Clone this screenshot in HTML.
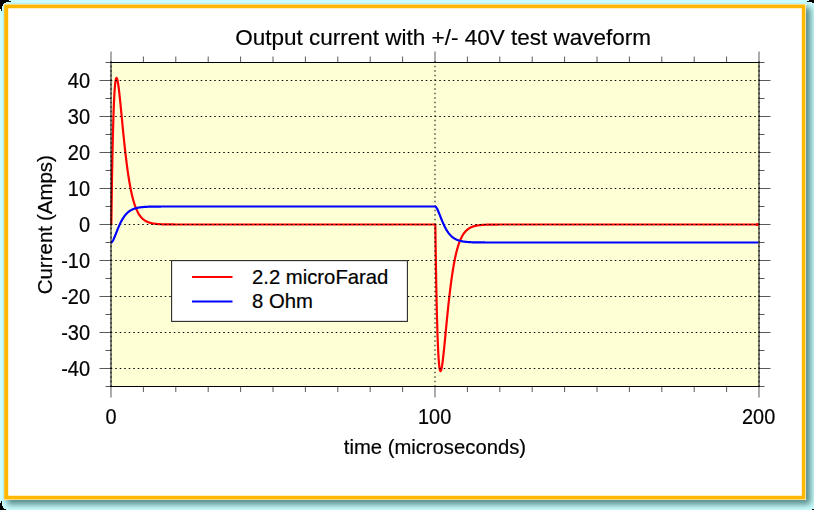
<!DOCTYPE html>
<html><head><meta charset="utf-8"><title>Output current</title>
<style>
html,body{margin:0;padding:0;background:#ccffff;}
body{width:814px;height:510px;overflow:hidden;}
svg{display:block;}
text{font-family:"Liberation Sans",sans-serif;fill:#000;stroke:#000;stroke-width:0.2px;}
</style></head><body>
<svg width="814" height="510" viewBox="0 0 814 510">
<defs>
<filter id="sh" x="-5%" y="-5%" width="110%" height="110%"><feGaussianBlur stdDeviation="3.2"/></filter>
<clipPath id="sc"><rect x="2.5" y="2.5" width="812" height="508"/></clipPath>
<clipPath id="pc"><rect x="109.5" y="62" width="650" height="325"/></clipPath>
</defs>
<rect x="0" y="0" width="814" height="510" fill="#ccffff"/>
<rect x="6.8" y="7.2" width="803.9" height="497.5" fill="#5a8b8b" filter="url(#sh)" clip-path="url(#sc)"/>
<rect x="4" y="4" width="802" height="496" fill="#ffffff"/>
<path d="M4.2,4.4H805.4V499.4H4.2Z M8.2,8.2V495.7H801.8V8.2Z" fill="#ffb800" fill-rule="evenodd"/>
<rect x="0" y="0" width="9" height="1" fill="#000"/><rect x="0" y="1" width="11" height="1" fill="#000"/><rect x="0" y="2" width="6" height="1" fill="#000"/><rect x="0" y="3" width="4" height="1" fill="#000"/><rect x="0" y="4" width="3" height="2" fill="#000"/><rect x="0" y="6" width="2" height="3" fill="#000"/><rect x="1" y="9" width="1" height="2" fill="#000"/>
<rect x="809" y="0" width="5" height="1" fill="#000"/><rect x="807" y="1" width="7" height="1" fill="#000"/><rect x="812" y="2" width="2" height="1" fill="#000"/>
<rect x="1" y="501" width="1" height="2" fill="#000"/><rect x="0" y="503" width="2" height="3" fill="#000"/><rect x="0" y="506" width="3" height="2" fill="#000"/><rect x="0" y="508" width="4" height="1" fill="#000"/><rect x="0" y="509" width="6" height="1" fill="#000"/>
<rect x="812" y="509" width="2" height="1" fill="#000"/>
<rect x="111" y="62.5" width="648" height="324" fill="#ffffd5"/>
<g clip-path="url(#pc)"><path d="M111.00,224.50 L111.32,224.50 L111.65,201.11 L111.97,180.55 L112.30,162.58 L112.62,146.94 L112.94,133.42 L113.27,121.83 L113.59,111.97 L113.92,103.69 L114.24,96.82 L114.56,91.23 L114.89,86.78 L115.21,83.37 L115.54,80.87 L115.86,79.19 L116.18,78.24 L116.51,77.95 L116.83,78.22 L117.16,79.00 L117.48,80.22 L117.80,81.83 L118.13,83.77 L118.45,86.00 L118.78,88.48 L119.10,91.17 L119.42,94.02 L119.75,97.03 L120.07,100.14 L120.40,103.35 L120.72,106.63 L121.04,109.95 L121.37,113.30 L121.69,116.67 L122.02,120.04 L122.34,123.39 L122.66,126.73 L122.99,130.03 L123.31,133.28 L123.64,136.49 L123.96,139.65 L124.28,142.75 L124.61,145.78 L124.93,148.75 L125.26,151.64 L125.58,154.46 L125.90,157.21 L126.23,159.88 L126.55,162.48 L126.88,165.00 L127.20,167.44 L127.52,169.80 L127.85,172.09 L128.17,174.30 L128.50,176.43 L128.82,178.49 L129.14,180.48 L129.47,182.40 L129.79,184.24 L130.12,186.02 L130.44,187.72 L130.76,189.37 L131.09,190.95 L131.41,192.46 L131.74,193.92 L132.06,195.31 L132.38,196.65 L132.71,197.94 L133.03,199.17 L133.36,200.35 L133.68,201.48 L134.00,202.56 L134.33,203.60 L134.65,204.58 L134.98,205.53 L135.30,206.44 L135.62,207.30 L135.95,208.13 L136.27,208.92 L136.60,209.67 L136.92,210.39 L137.24,211.08 L137.57,211.73 L137.89,212.36 L138.22,212.96 L138.54,213.52 L138.86,214.07 L139.19,214.58 L139.51,215.08 L139.84,215.55 L140.16,215.99 L140.48,216.42 L140.81,216.82 L141.13,217.21 L141.46,217.58 L141.78,217.93 L142.10,218.26 L142.43,218.58 L142.75,218.88 L143.08,219.16 L143.40,219.43 L143.72,219.69 L144.05,219.94 L144.37,220.17 L144.70,220.40 L145.02,220.61 L145.34,220.81 L145.67,221.00 L145.99,221.18 L146.32,221.35 L146.64,221.51 L146.96,221.67 L147.29,221.82 L147.61,221.96 L147.94,222.09 L148.26,222.22 L148.58,222.34 L148.91,222.45 L149.23,222.56 L149.56,222.66 L149.88,222.76 L150.20,222.85 L150.53,222.93 L150.85,223.02 L151.18,223.10 L151.50,223.17 L151.82,223.24 L152.15,223.31 L152.47,223.37 L152.80,223.43 L153.12,223.49 L153.44,223.54 L153.77,223.59 L154.09,223.64 L154.42,223.69 L154.74,223.73 L155.06,223.77 L155.39,223.81 L155.71,223.85 L156.04,223.88 L156.36,223.92 L156.68,223.95 L157.01,223.98 L157.33,224.01 L157.66,224.03 L157.98,224.06 L158.30,224.08 L158.63,224.10 L158.95,224.13 L159.28,224.15 L159.60,224.17 L159.92,224.18 L160.25,224.20 L160.57,224.22 L160.90,224.23 L161.22,224.25 L161.54,224.26 L161.87,224.27 L162.19,224.29 L162.52,224.30 L162.84,224.31 L163.16,224.32 L163.49,224.33 L163.81,224.34 L164.14,224.35 L164.46,224.36 L164.78,224.36 L165.11,224.37 L165.43,224.38 L165.76,224.38 L166.08,224.39 L166.40,224.40 L166.73,224.40 L167.05,224.41 L167.38,224.41 L167.70,224.42 L168.02,224.42 L168.35,224.43 L168.67,224.43 L169.00,224.43 L169.32,224.44 L169.64,224.44 L169.97,224.44 L170.29,224.45 L170.62,224.45 L170.94,224.45 L171.26,224.46 L171.59,224.46 L171.91,224.46 L172.24,224.46 L172.56,224.47 L172.88,224.47 L173.21,224.47 L173.53,224.47 L173.86,224.47 L174.18,224.47 L174.50,224.48 L174.83,224.48 L175.15,224.48 L175.48,224.48 L175.80,224.48 L177.42,224.49 L179.04,224.49 L180.66,224.49 L182.28,224.49 L183.90,224.50 L185.52,224.50 L187.14,224.50 L188.76,224.50 L190.38,224.50 L192.00,224.50 L193.62,224.50 L195.24,224.50 L196.86,224.50 L198.48,224.50 L200.10,224.50 L201.72,224.50 L203.34,224.50 L204.96,224.50 L206.58,224.50 L208.20,224.50 L209.82,224.50 L211.44,224.50 L213.06,224.50 L214.68,224.50 L216.30,224.50 L217.92,224.50 L219.54,224.50 L221.16,224.50 L222.78,224.50 L224.40,224.50 L226.02,224.50 L227.64,224.50 L229.26,224.50 L230.88,224.50 L232.50,224.50 L234.12,224.50 L235.74,224.50 L237.36,224.50 L238.98,224.50 L240.60,224.50 L242.22,224.50 L243.84,224.50 L245.46,224.50 L247.08,224.50 L248.70,224.50 L250.32,224.50 L251.94,224.50 L253.56,224.50 L255.18,224.50 L256.80,224.50 L258.42,224.50 L260.04,224.50 L261.66,224.50 L263.28,224.50 L264.90,224.50 L266.52,224.50 L268.14,224.50 L269.76,224.50 L271.38,224.50 L273.00,224.50 L274.62,224.50 L276.24,224.50 L277.86,224.50 L279.48,224.50 L281.10,224.50 L282.72,224.50 L284.34,224.50 L285.96,224.50 L287.58,224.50 L289.20,224.50 L290.82,224.50 L292.44,224.50 L294.06,224.50 L295.68,224.50 L297.30,224.50 L298.92,224.50 L300.54,224.50 L302.16,224.50 L303.78,224.50 L305.40,224.50 L307.02,224.50 L308.64,224.50 L310.26,224.50 L311.88,224.50 L313.50,224.50 L315.12,224.50 L316.74,224.50 L318.36,224.50 L319.98,224.50 L321.60,224.50 L323.22,224.50 L324.84,224.50 L326.46,224.50 L328.08,224.50 L329.70,224.50 L331.32,224.50 L332.94,224.50 L334.56,224.50 L336.18,224.50 L337.80,224.50 L339.42,224.50 L341.04,224.50 L342.66,224.50 L344.28,224.50 L345.90,224.50 L347.52,224.50 L349.14,224.50 L350.76,224.50 L352.38,224.50 L354.00,224.50 L355.62,224.50 L357.24,224.50 L358.86,224.50 L360.48,224.50 L362.10,224.50 L363.72,224.50 L365.34,224.50 L366.96,224.50 L368.58,224.50 L370.20,224.50 L371.82,224.50 L373.44,224.50 L375.06,224.50 L376.68,224.50 L378.30,224.50 L379.92,224.50 L381.54,224.50 L383.16,224.50 L384.78,224.50 L386.40,224.50 L388.02,224.50 L389.64,224.50 L391.26,224.50 L392.88,224.50 L394.50,224.50 L396.12,224.50 L397.74,224.50 L399.36,224.50 L400.98,224.50 L402.60,224.50 L404.22,224.50 L405.84,224.50 L407.46,224.50 L409.08,224.50 L410.70,224.50 L412.32,224.50 L413.94,224.50 L415.56,224.50 L417.18,224.50 L418.80,224.50 L420.42,224.50 L422.04,224.50 L423.66,224.50 L425.28,224.50 L426.90,224.50 L428.52,224.50 L430.14,224.50 L431.76,224.50 L433.38,224.50 L435.00,224.50 L435.32,224.50 L435.65,247.89 L435.97,268.45 L436.30,286.42 L436.62,302.06 L436.94,315.58 L437.27,327.17 L437.59,337.03 L437.92,345.31 L438.24,352.18 L438.56,357.77 L438.89,362.22 L439.21,365.63 L439.54,368.13 L439.86,369.81 L440.18,370.76 L440.51,371.05 L440.83,370.78 L441.16,370.00 L441.48,368.78 L441.80,367.17 L442.13,365.23 L442.45,363.00 L442.78,360.52 L443.10,357.83 L443.42,354.98 L443.75,351.97 L444.07,348.86 L444.40,345.65 L444.72,342.37 L445.04,339.05 L445.37,335.70 L445.69,332.33 L446.02,328.96 L446.34,325.61 L446.66,322.27 L446.99,318.97 L447.31,315.72 L447.64,312.51 L447.96,309.35 L448.28,306.25 L448.61,303.22 L448.93,300.25 L449.26,297.36 L449.58,294.54 L449.90,291.79 L450.23,289.12 L450.55,286.52 L450.88,284.00 L451.20,281.56 L451.52,279.20 L451.85,276.91 L452.17,274.70 L452.50,272.57 L452.82,270.51 L453.14,268.52 L453.47,266.60 L453.79,264.76 L454.12,262.98 L454.44,261.28 L454.76,259.63 L455.09,258.05 L455.41,256.54 L455.74,255.08 L456.06,253.69 L456.38,252.35 L456.71,251.06 L457.03,249.83 L457.36,248.65 L457.68,247.52 L458.00,246.44 L458.33,245.40 L458.65,244.42 L458.98,243.47 L459.30,242.56 L459.62,241.70 L459.95,240.87 L460.27,240.08 L460.60,239.33 L460.92,238.61 L461.24,237.92 L461.57,237.27 L461.89,236.64 L462.22,236.04 L462.54,235.48 L462.86,234.93 L463.19,234.42 L463.51,233.92 L463.84,233.45 L464.16,233.01 L464.48,232.58 L464.81,232.18 L465.13,231.79 L465.46,231.42 L465.78,231.07 L466.10,230.74 L466.43,230.42 L466.75,230.12 L467.08,229.84 L467.40,229.57 L467.72,229.31 L468.05,229.06 L468.37,228.83 L468.70,228.60 L469.02,228.39 L469.34,228.19 L469.67,228.00 L469.99,227.82 L470.32,227.65 L470.64,227.49 L470.96,227.33 L471.29,227.18 L471.61,227.04 L471.94,226.91 L472.26,226.78 L472.58,226.66 L472.91,226.55 L473.23,226.44 L473.56,226.34 L473.88,226.24 L474.20,226.15 L474.53,226.07 L474.85,225.98 L475.18,225.90 L475.50,225.83 L475.82,225.76 L476.15,225.69 L476.47,225.63 L476.80,225.57 L477.12,225.51 L477.44,225.46 L477.77,225.41 L478.09,225.36 L478.42,225.31 L478.74,225.27 L479.06,225.23 L479.39,225.19 L479.71,225.15 L480.04,225.12 L480.36,225.08 L480.68,225.05 L481.01,225.02 L481.33,224.99 L481.66,224.97 L481.98,224.94 L482.30,224.92 L482.63,224.90 L482.95,224.87 L483.28,224.85 L483.60,224.83 L483.92,224.82 L484.25,224.80 L484.57,224.78 L484.90,224.77 L485.22,224.75 L485.54,224.74 L485.87,224.73 L486.19,224.71 L486.52,224.70 L486.84,224.69 L487.16,224.68 L487.49,224.67 L487.81,224.66 L488.14,224.65 L488.46,224.64 L488.78,224.64 L489.11,224.63 L489.43,224.62 L489.76,224.62 L490.08,224.61 L490.40,224.60 L490.73,224.60 L491.05,224.59 L491.38,224.59 L491.70,224.58 L492.02,224.58 L492.35,224.57 L492.67,224.57 L493.00,224.57 L493.32,224.56 L493.64,224.56 L493.97,224.56 L494.29,224.55 L494.62,224.55 L494.94,224.55 L495.26,224.54 L495.59,224.54 L495.91,224.54 L496.24,224.54 L496.56,224.53 L496.88,224.53 L497.21,224.53 L497.53,224.53 L497.86,224.53 L498.18,224.53 L498.50,224.52 L498.83,224.52 L499.15,224.52 L499.48,224.52 L499.80,224.52 L501.42,224.51 L503.04,224.51 L504.66,224.51 L506.28,224.51 L507.90,224.50 L509.52,224.50 L511.14,224.50 L512.76,224.50 L514.38,224.50 L516.00,224.50 L517.62,224.50 L519.24,224.50 L520.86,224.50 L522.48,224.50 L524.10,224.50 L525.72,224.50 L527.34,224.50 L528.96,224.50 L530.58,224.50 L532.20,224.50 L533.82,224.50 L535.44,224.50 L537.06,224.50 L538.68,224.50 L540.30,224.50 L541.92,224.50 L543.54,224.50 L545.16,224.50 L546.78,224.50 L548.40,224.50 L550.02,224.50 L551.64,224.50 L553.26,224.50 L554.88,224.50 L556.50,224.50 L558.12,224.50 L559.74,224.50 L561.36,224.50 L562.98,224.50 L564.60,224.50 L566.22,224.50 L567.84,224.50 L569.46,224.50 L571.08,224.50 L572.70,224.50 L574.32,224.50 L575.94,224.50 L577.56,224.50 L579.18,224.50 L580.80,224.50 L582.42,224.50 L584.04,224.50 L585.66,224.50 L587.28,224.50 L588.90,224.50 L590.52,224.50 L592.14,224.50 L593.76,224.50 L595.38,224.50 L597.00,224.50 L598.62,224.50 L600.24,224.50 L601.86,224.50 L603.48,224.50 L605.10,224.50 L606.72,224.50 L608.34,224.50 L609.96,224.50 L611.58,224.50 L613.20,224.50 L614.82,224.50 L616.44,224.50 L618.06,224.50 L619.68,224.50 L621.30,224.50 L622.92,224.50 L624.54,224.50 L626.16,224.50 L627.78,224.50 L629.40,224.50 L631.02,224.50 L632.64,224.50 L634.26,224.50 L635.88,224.50 L637.50,224.50 L639.12,224.50 L640.74,224.50 L642.36,224.50 L643.98,224.50 L645.60,224.50 L647.22,224.50 L648.84,224.50 L650.46,224.50 L652.08,224.50 L653.70,224.50 L655.32,224.50 L656.94,224.50 L658.56,224.50 L660.18,224.50 L661.80,224.50 L663.42,224.50 L665.04,224.50 L666.66,224.50 L668.28,224.50 L669.90,224.50 L671.52,224.50 L673.14,224.50 L674.76,224.50 L676.38,224.50 L678.00,224.50 L679.62,224.50 L681.24,224.50 L682.86,224.50 L684.48,224.50 L686.10,224.50 L687.72,224.50 L689.34,224.50 L690.96,224.50 L692.58,224.50 L694.20,224.50 L695.82,224.50 L697.44,224.50 L699.06,224.50 L700.68,224.50 L702.30,224.50 L703.92,224.50 L705.54,224.50 L707.16,224.50 L708.78,224.50 L710.40,224.50 L712.02,224.50 L713.64,224.50 L715.26,224.50 L716.88,224.50 L718.50,224.50 L720.12,224.50 L721.74,224.50 L723.36,224.50 L724.98,224.50 L726.60,224.50 L728.22,224.50 L729.84,224.50 L731.46,224.50 L733.08,224.50 L734.70,224.50 L736.32,224.50 L737.94,224.50 L739.56,224.50 L741.18,224.50 L742.80,224.50 L744.42,224.50 L746.04,224.50 L747.66,224.50 L749.28,224.50 L750.90,224.50 L752.52,224.50 L754.14,224.50 L755.76,224.50 L757.38,224.50 L757.60,224.50" fill="none" stroke="#ff0000" stroke-width="2.2" stroke-linejoin="round" stroke-linecap="round"/></g>
<path d="M110.75,368.5H760 M110.75,332.5H760 M110.75,296.5H760 M110.75,260.5H760 M110.75,224.5H760 M110.75,188.5H760 M110.75,152.5H760 M110.75,116.5H760 M110.75,80.5H760 M111.0,61.25V387.5 M435.0,61.25V387.5 M759.0,61.25V387.5" fill="none" stroke="#000" stroke-width="1" stroke-dasharray="1.5 3"/>
<circle cx="757.3" cy="224.6" r="1.55" fill="#ff0000"/>
<g clip-path="url(#pc)"><path d="M111.00,242.50 L111.32,242.43 L111.65,242.24 L111.97,241.94 L112.30,241.55 L112.62,241.07 L112.94,240.52 L113.27,239.91 L113.59,239.25 L113.92,238.55 L114.24,237.81 L114.56,237.05 L114.89,236.26 L115.21,235.45 L115.54,234.64 L115.86,233.81 L116.18,232.99 L116.51,232.16 L116.83,231.34 L117.16,230.52 L117.48,229.71 L117.80,228.91 L118.13,228.12 L118.45,227.34 L118.78,226.58 L119.10,225.84 L119.42,225.11 L119.75,224.40 L120.07,223.70 L120.40,223.03 L120.72,222.37 L121.04,221.73 L121.37,221.12 L121.69,220.52 L122.02,219.94 L122.34,219.37 L122.66,218.83 L122.99,218.31 L123.31,217.80 L123.64,217.31 L123.96,216.84 L124.28,216.39 L124.61,215.95 L124.93,215.53 L125.26,215.13 L125.58,214.74 L125.90,214.37 L126.23,214.01 L126.55,213.67 L126.88,213.34 L127.20,213.02 L127.52,212.72 L127.85,212.43 L128.17,212.15 L128.50,211.89 L128.82,211.64 L129.14,211.39 L129.47,211.16 L129.79,210.94 L130.12,210.72 L130.44,210.52 L130.76,210.33 L131.09,210.14 L131.41,209.97 L131.74,209.80 L132.06,209.64 L132.38,209.48 L132.71,209.34 L133.03,209.20 L133.36,209.06 L133.68,208.94 L134.00,208.81 L134.33,208.70 L134.65,208.59 L134.98,208.49 L135.30,208.39 L135.62,208.29 L135.95,208.20 L136.27,208.11 L136.60,208.03 L136.92,207.96 L137.24,207.88 L137.57,207.81 L137.89,207.74 L138.22,207.68 L138.54,207.62 L138.86,207.56 L139.19,207.51 L139.51,207.46 L139.84,207.41 L140.16,207.36 L140.48,207.32 L140.81,207.27 L141.13,207.23 L141.46,207.20 L141.78,207.16 L142.10,207.12 L142.43,207.09 L142.75,207.06 L143.08,207.03 L143.40,207.00 L143.72,206.98 L144.05,206.95 L144.37,206.93 L144.70,206.91 L145.02,206.88 L145.34,206.86 L145.67,206.84 L145.99,206.83 L146.32,206.81 L146.64,206.79 L146.96,206.78 L147.29,206.76 L147.61,206.75 L147.94,206.74 L148.26,206.72 L148.58,206.71 L148.91,206.70 L149.23,206.69 L149.56,206.68 L149.88,206.67 L150.20,206.66 L150.53,206.65 L150.85,206.64 L151.18,206.64 L151.50,206.63 L151.82,206.62 L152.15,206.61 L152.47,206.61 L152.80,206.60 L153.12,206.60 L153.44,206.59 L153.77,206.59 L154.09,206.58 L154.42,206.58 L154.74,206.57 L155.06,206.57 L155.39,206.57 L155.71,206.56 L156.04,206.56 L156.36,206.56 L156.68,206.55 L157.01,206.55 L157.33,206.55 L157.66,206.54 L157.98,206.54 L158.30,206.54 L158.63,206.54 L158.95,206.54 L159.28,206.53 L159.60,206.53 L159.92,206.53 L160.25,206.53 L160.57,206.53 L160.90,206.53 L161.22,206.52 L161.54,206.52 L161.87,206.52 L162.19,206.52 L162.52,206.52 L162.84,206.52 L163.16,206.52 L163.49,206.52 L163.81,206.52 L164.14,206.51 L164.46,206.51 L164.78,206.51 L165.11,206.51 L165.43,206.51 L165.76,206.51 L166.08,206.51 L166.40,206.51 L166.73,206.51 L167.05,206.51 L167.38,206.51 L167.70,206.51 L168.02,206.51 L168.35,206.51 L168.67,206.51 L169.00,206.51 L169.32,206.51 L169.64,206.51 L169.97,206.51 L170.29,206.50 L170.62,206.50 L170.94,206.50 L171.26,206.50 L171.59,206.50 L171.91,206.50 L172.24,206.50 L172.56,206.50 L172.88,206.50 L173.21,206.50 L173.53,206.50 L173.86,206.50 L174.18,206.50 L174.50,206.50 L174.83,206.50 L175.15,206.50 L175.48,206.50 L175.80,206.50 L177.42,206.50 L179.04,206.50 L180.66,206.50 L182.28,206.50 L183.90,206.50 L185.52,206.50 L187.14,206.50 L188.76,206.50 L190.38,206.50 L192.00,206.50 L193.62,206.50 L195.24,206.50 L196.86,206.50 L198.48,206.50 L200.10,206.50 L201.72,206.50 L203.34,206.50 L204.96,206.50 L206.58,206.50 L208.20,206.50 L209.82,206.50 L211.44,206.50 L213.06,206.50 L214.68,206.50 L216.30,206.50 L217.92,206.50 L219.54,206.50 L221.16,206.50 L222.78,206.50 L224.40,206.50 L226.02,206.50 L227.64,206.50 L229.26,206.50 L230.88,206.50 L232.50,206.50 L234.12,206.50 L235.74,206.50 L237.36,206.50 L238.98,206.50 L240.60,206.50 L242.22,206.50 L243.84,206.50 L245.46,206.50 L247.08,206.50 L248.70,206.50 L250.32,206.50 L251.94,206.50 L253.56,206.50 L255.18,206.50 L256.80,206.50 L258.42,206.50 L260.04,206.50 L261.66,206.50 L263.28,206.50 L264.90,206.50 L266.52,206.50 L268.14,206.50 L269.76,206.50 L271.38,206.50 L273.00,206.50 L274.62,206.50 L276.24,206.50 L277.86,206.50 L279.48,206.50 L281.10,206.50 L282.72,206.50 L284.34,206.50 L285.96,206.50 L287.58,206.50 L289.20,206.50 L290.82,206.50 L292.44,206.50 L294.06,206.50 L295.68,206.50 L297.30,206.50 L298.92,206.50 L300.54,206.50 L302.16,206.50 L303.78,206.50 L305.40,206.50 L307.02,206.50 L308.64,206.50 L310.26,206.50 L311.88,206.50 L313.50,206.50 L315.12,206.50 L316.74,206.50 L318.36,206.50 L319.98,206.50 L321.60,206.50 L323.22,206.50 L324.84,206.50 L326.46,206.50 L328.08,206.50 L329.70,206.50 L331.32,206.50 L332.94,206.50 L334.56,206.50 L336.18,206.50 L337.80,206.50 L339.42,206.50 L341.04,206.50 L342.66,206.50 L344.28,206.50 L345.90,206.50 L347.52,206.50 L349.14,206.50 L350.76,206.50 L352.38,206.50 L354.00,206.50 L355.62,206.50 L357.24,206.50 L358.86,206.50 L360.48,206.50 L362.10,206.50 L363.72,206.50 L365.34,206.50 L366.96,206.50 L368.58,206.50 L370.20,206.50 L371.82,206.50 L373.44,206.50 L375.06,206.50 L376.68,206.50 L378.30,206.50 L379.92,206.50 L381.54,206.50 L383.16,206.50 L384.78,206.50 L386.40,206.50 L388.02,206.50 L389.64,206.50 L391.26,206.50 L392.88,206.50 L394.50,206.50 L396.12,206.50 L397.74,206.50 L399.36,206.50 L400.98,206.50 L402.60,206.50 L404.22,206.50 L405.84,206.50 L407.46,206.50 L409.08,206.50 L410.70,206.50 L412.32,206.50 L413.94,206.50 L415.56,206.50 L417.18,206.50 L418.80,206.50 L420.42,206.50 L422.04,206.50 L423.66,206.50 L425.28,206.50 L426.90,206.50 L428.52,206.50 L430.14,206.50 L431.76,206.50 L433.38,206.50 L435.00,206.50 L435.32,206.57 L435.65,206.76 L435.97,207.06 L436.30,207.45 L436.62,207.93 L436.94,208.48 L437.27,209.09 L437.59,209.75 L437.92,210.45 L438.24,211.19 L438.56,211.95 L438.89,212.74 L439.21,213.55 L439.54,214.36 L439.86,215.19 L440.18,216.01 L440.51,216.84 L440.83,217.66 L441.16,218.48 L441.48,219.29 L441.80,220.09 L442.13,220.88 L442.45,221.66 L442.78,222.42 L443.10,223.16 L443.42,223.89 L443.75,224.60 L444.07,225.30 L444.40,225.97 L444.72,226.63 L445.04,227.27 L445.37,227.88 L445.69,228.48 L446.02,229.06 L446.34,229.63 L446.66,230.17 L446.99,230.69 L447.31,231.20 L447.64,231.69 L447.96,232.16 L448.28,232.61 L448.61,233.05 L448.93,233.47 L449.26,233.87 L449.58,234.26 L449.90,234.63 L450.23,234.99 L450.55,235.33 L450.88,235.66 L451.20,235.98 L451.52,236.28 L451.85,236.57 L452.17,236.85 L452.50,237.11 L452.82,237.36 L453.14,237.61 L453.47,237.84 L453.79,238.06 L454.12,238.28 L454.44,238.48 L454.76,238.67 L455.09,238.86 L455.41,239.03 L455.74,239.20 L456.06,239.36 L456.38,239.52 L456.71,239.66 L457.03,239.80 L457.36,239.94 L457.68,240.06 L458.00,240.19 L458.33,240.30 L458.65,240.41 L458.98,240.51 L459.30,240.61 L459.62,240.71 L459.95,240.80 L460.27,240.89 L460.60,240.97 L460.92,241.04 L461.24,241.12 L461.57,241.19 L461.89,241.26 L462.22,241.32 L462.54,241.38 L462.86,241.44 L463.19,241.49 L463.51,241.54 L463.84,241.59 L464.16,241.64 L464.48,241.68 L464.81,241.73 L465.13,241.77 L465.46,241.80 L465.78,241.84 L466.10,241.88 L466.43,241.91 L466.75,241.94 L467.08,241.97 L467.40,242.00 L467.72,242.02 L468.05,242.05 L468.37,242.07 L468.70,242.09 L469.02,242.12 L469.34,242.14 L469.67,242.16 L469.99,242.17 L470.32,242.19 L470.64,242.21 L470.96,242.22 L471.29,242.24 L471.61,242.25 L471.94,242.26 L472.26,242.28 L472.58,242.29 L472.91,242.30 L473.23,242.31 L473.56,242.32 L473.88,242.33 L474.20,242.34 L474.53,242.35 L474.85,242.36 L475.18,242.36 L475.50,242.37 L475.82,242.38 L476.15,242.39 L476.47,242.39 L476.80,242.40 L477.12,242.40 L477.44,242.41 L477.77,242.41 L478.09,242.42 L478.42,242.42 L478.74,242.43 L479.06,242.43 L479.39,242.43 L479.71,242.44 L480.04,242.44 L480.36,242.44 L480.68,242.45 L481.01,242.45 L481.33,242.45 L481.66,242.46 L481.98,242.46 L482.30,242.46 L482.63,242.46 L482.95,242.46 L483.28,242.47 L483.60,242.47 L483.92,242.47 L484.25,242.47 L484.57,242.47 L484.90,242.47 L485.22,242.48 L485.54,242.48 L485.87,242.48 L486.19,242.48 L486.52,242.48 L486.84,242.48 L487.16,242.48 L487.49,242.48 L487.81,242.48 L488.14,242.49 L488.46,242.49 L488.78,242.49 L489.11,242.49 L489.43,242.49 L489.76,242.49 L490.08,242.49 L490.40,242.49 L490.73,242.49 L491.05,242.49 L491.38,242.49 L491.70,242.49 L492.02,242.49 L492.35,242.49 L492.67,242.49 L493.00,242.49 L493.32,242.49 L493.64,242.49 L493.97,242.49 L494.29,242.50 L494.62,242.50 L494.94,242.50 L495.26,242.50 L495.59,242.50 L495.91,242.50 L496.24,242.50 L496.56,242.50 L496.88,242.50 L497.21,242.50 L497.53,242.50 L497.86,242.50 L498.18,242.50 L498.50,242.50 L498.83,242.50 L499.15,242.50 L499.48,242.50 L499.80,242.50 L501.42,242.50 L503.04,242.50 L504.66,242.50 L506.28,242.50 L507.90,242.50 L509.52,242.50 L511.14,242.50 L512.76,242.50 L514.38,242.50 L516.00,242.50 L517.62,242.50 L519.24,242.50 L520.86,242.50 L522.48,242.50 L524.10,242.50 L525.72,242.50 L527.34,242.50 L528.96,242.50 L530.58,242.50 L532.20,242.50 L533.82,242.50 L535.44,242.50 L537.06,242.50 L538.68,242.50 L540.30,242.50 L541.92,242.50 L543.54,242.50 L545.16,242.50 L546.78,242.50 L548.40,242.50 L550.02,242.50 L551.64,242.50 L553.26,242.50 L554.88,242.50 L556.50,242.50 L558.12,242.50 L559.74,242.50 L561.36,242.50 L562.98,242.50 L564.60,242.50 L566.22,242.50 L567.84,242.50 L569.46,242.50 L571.08,242.50 L572.70,242.50 L574.32,242.50 L575.94,242.50 L577.56,242.50 L579.18,242.50 L580.80,242.50 L582.42,242.50 L584.04,242.50 L585.66,242.50 L587.28,242.50 L588.90,242.50 L590.52,242.50 L592.14,242.50 L593.76,242.50 L595.38,242.50 L597.00,242.50 L598.62,242.50 L600.24,242.50 L601.86,242.50 L603.48,242.50 L605.10,242.50 L606.72,242.50 L608.34,242.50 L609.96,242.50 L611.58,242.50 L613.20,242.50 L614.82,242.50 L616.44,242.50 L618.06,242.50 L619.68,242.50 L621.30,242.50 L622.92,242.50 L624.54,242.50 L626.16,242.50 L627.78,242.50 L629.40,242.50 L631.02,242.50 L632.64,242.50 L634.26,242.50 L635.88,242.50 L637.50,242.50 L639.12,242.50 L640.74,242.50 L642.36,242.50 L643.98,242.50 L645.60,242.50 L647.22,242.50 L648.84,242.50 L650.46,242.50 L652.08,242.50 L653.70,242.50 L655.32,242.50 L656.94,242.50 L658.56,242.50 L660.18,242.50 L661.80,242.50 L663.42,242.50 L665.04,242.50 L666.66,242.50 L668.28,242.50 L669.90,242.50 L671.52,242.50 L673.14,242.50 L674.76,242.50 L676.38,242.50 L678.00,242.50 L679.62,242.50 L681.24,242.50 L682.86,242.50 L684.48,242.50 L686.10,242.50 L687.72,242.50 L689.34,242.50 L690.96,242.50 L692.58,242.50 L694.20,242.50 L695.82,242.50 L697.44,242.50 L699.06,242.50 L700.68,242.50 L702.30,242.50 L703.92,242.50 L705.54,242.50 L707.16,242.50 L708.78,242.50 L710.40,242.50 L712.02,242.50 L713.64,242.50 L715.26,242.50 L716.88,242.50 L718.50,242.50 L720.12,242.50 L721.74,242.50 L723.36,242.50 L724.98,242.50 L726.60,242.50 L728.22,242.50 L729.84,242.50 L731.46,242.50 L733.08,242.50 L734.70,242.50 L736.32,242.50 L737.94,242.50 L739.56,242.50 L741.18,242.50 L742.80,242.50 L744.42,242.50 L746.04,242.50 L747.66,242.50 L749.28,242.50 L750.90,242.50 L752.52,242.50 L754.14,242.50 L755.76,242.50 L757.38,242.50 L758.50,242.50" fill="none" stroke="#0000ff" stroke-width="2.2" stroke-linejoin="round"/></g>
<path d="M110.5,62.5H759.5 M110.5,386.5H759.5" stroke="#000" stroke-width="1" fill="none"/>
<path d="M111,62V387 M759,62V387" stroke="#000" stroke-width="1" fill="none"/>
<path d="M111.00,51.5V62 M111.00,387V397.5 M143.40,56.5V62 M143.40,387V392 M175.80,56.5V62 M175.80,387V392 M208.20,56.5V62 M208.20,387V392 M240.60,56.5V62 M240.60,387V392 M273.00,56.5V62 M273.00,387V392 M305.40,56.5V62 M305.40,387V392 M337.80,56.5V62 M337.80,387V392 M370.20,56.5V62 M370.20,387V392 M402.60,56.5V62 M402.60,387V392 M435.00,51.5V62 M435.00,387V397.5 M467.40,56.5V62 M467.40,387V392 M499.80,56.5V62 M499.80,387V392 M532.20,56.5V62 M532.20,387V392 M564.60,56.5V62 M564.60,387V392 M597.00,56.5V62 M597.00,387V392 M629.40,56.5V62 M629.40,387V392 M661.80,56.5V62 M661.80,387V392 M694.20,56.5V62 M694.20,387V392 M726.60,56.5V62 M726.60,387V392 M759.00,51.5V62 M759.00,387V397.5 M105.5,62.5H111 M759,62.5H764.5 M105.5,386.5H111 M759,386.5H764.5 M99.5,368.5H111 M759,368.5H770.5 M105.5,350.5H111 M759,350.5H764.5 M99.5,332.5H111 M759,332.5H770.5 M105.5,314.5H111 M759,314.5H764.5 M99.5,296.5H111 M759,296.5H770.5 M105.5,278.5H111 M759,278.5H764.5 M99.5,260.5H111 M759,260.5H770.5 M105.5,242.5H111 M759,242.5H764.5 M99.5,224.5H111 M759,224.5H770.5 M105.5,206.5H111 M759,206.5H764.5 M99.5,188.5H111 M759,188.5H770.5 M105.5,170.5H111 M759,170.5H764.5 M99.5,152.5H111 M759,152.5H770.5 M105.5,134.5H111 M759,134.5H764.5 M99.5,116.5H111 M759,116.5H770.5 M105.5,98.5H111 M759,98.5H764.5 M99.5,80.5H111 M759,80.5H770.5" stroke="#000" stroke-width="0.65" fill="none"/>
<g opacity="0.999">
<text transform="translate(90.1,376.1) scale(1,1.06)" font-size="20" text-anchor="end">-40</text>
<text transform="translate(90.1,340.1) scale(1,1.06)" font-size="20" text-anchor="end">-30</text>
<text transform="translate(90.1,304.1) scale(1,1.06)" font-size="20" text-anchor="end">-20</text>
<text transform="translate(90.1,268.1) scale(1,1.06)" font-size="20" text-anchor="end">-10</text>
<text transform="translate(90.1,232.1) scale(1,1.06)" font-size="20" text-anchor="end">0</text>
<text transform="translate(90.1,196.1) scale(1,1.06)" font-size="20" text-anchor="end">10</text>
<text transform="translate(90.1,160.1) scale(1,1.06)" font-size="20" text-anchor="end">20</text>
<text transform="translate(90.1,124.1) scale(1,1.06)" font-size="20" text-anchor="end">30</text>
<text transform="translate(90.1,88.1) scale(1,1.06)" font-size="20" text-anchor="end">40</text>
<text transform="translate(111.0,423.9) scale(1,1.09)" font-size="19.9" text-anchor="middle">0</text>
<text transform="translate(434.6,423.9) scale(1,1.09)" font-size="19.9" text-anchor="middle">100</text>
<text transform="translate(758.6,423.9) scale(1,1.09)" font-size="19.9" text-anchor="middle">200</text>
<text x="443.2" y="45" font-size="22.5" text-anchor="middle">Output current with +/- 40V test waveform</text>
<text x="434.9" y="454" font-size="20.25" text-anchor="middle">time (microseconds)</text>
<text transform="translate(51.6,224.7) rotate(-90)" word-spacing="-0.8" font-size="20.5" text-anchor="middle">Current (Amps)</text>
<rect x="171.6" y="260.6" width="235.8" height="60.8" fill="#fff" stroke="#2a2a2a" stroke-width="1.1"/>
<path d="M192,277H232.5" stroke="#ff0000" stroke-width="2.2"/>
<path d="M192,301.5H232.5" stroke="#0000ff" stroke-width="2.2"/>
<text x="252" y="284.2" font-size="20.3">2.2 microFarad</text>
<text x="252" y="308.4" font-size="20.3">8 Ohm</text>
</g>
</svg>
</body></html>
